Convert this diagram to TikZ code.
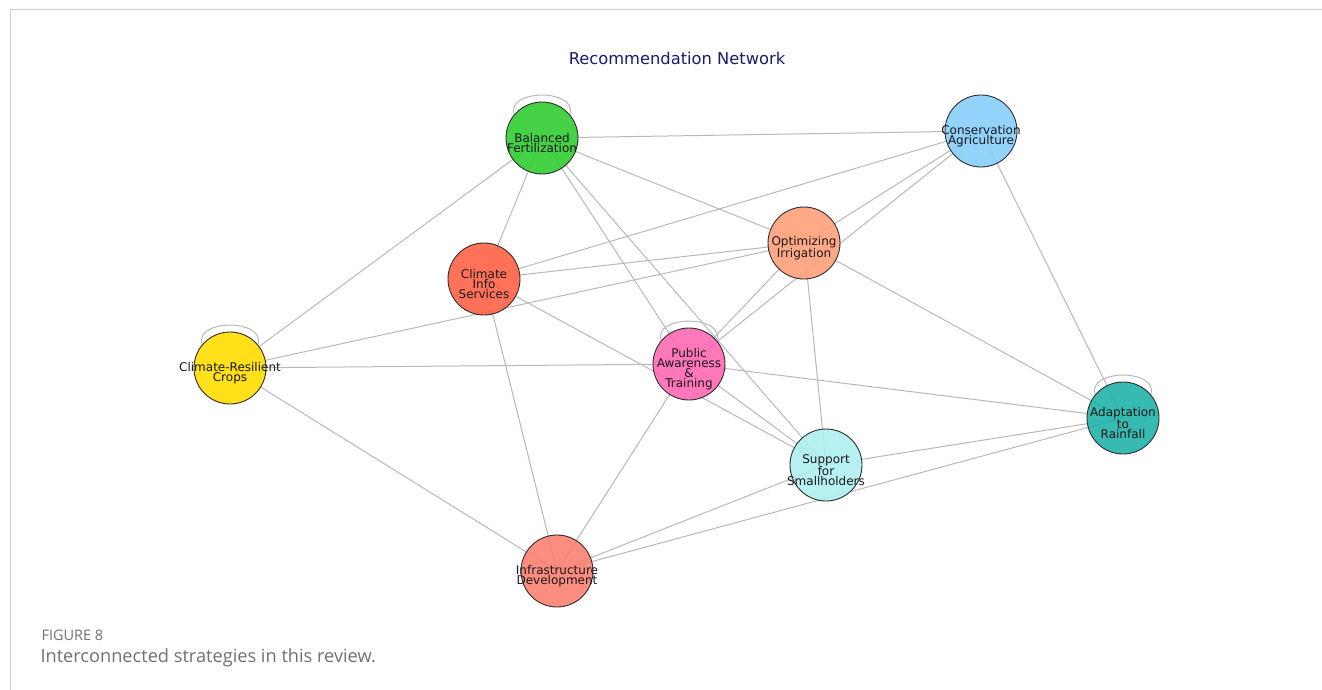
\documentclass[tikz,border=0pt]{standalone}
\usepackage{fontspec}
\newfontfamily\dv{DejaVu Sans}
\newfontfamily\capfont{Open Sans}
\usetikzlibrary{backgrounds}
\definecolor{edgegray}{HTML}{B8B8B8}
\definecolor{framegray}{HTML}{CCCCCC}
\definecolor{nodeborder}{HTML}{2E2E2E}
\definecolor{titleblue}{HTML}{191970}
\definecolor{capgray}{HTML}{707070}
\definecolor{cgreen}{HTML}{32CD32}
\definecolor{cblue}{HTML}{87CEFA}
\definecolor{csalmonl}{HTML}{FFA07A}
\definecolor{ctomato}{HTML}{FF6347}
\definecolor{cgold}{HTML}{FFDD00}
\definecolor{cpink}{HTML}{FF69B4}
\definecolor{cteal}{HTML}{20B2AA}
\definecolor{cturq}{HTML}{AFEEEE}
\definecolor{csalmon}{HTML}{FA8072}
\tikzset{
  strat/.style={circle, minimum size=72pt, inner sep=0pt, draw=nodeborder, line width=0.9pt, fill opacity=0.9, text opacity=1},
  lbl/.style={font=\dv\fontsize{12}{10}\selectfont, align=center, text=black!90, yshift=-5pt},
  edge/.style={draw=edgegray, line width=1pt},
}
\begin{document}
\begin{tikzpicture}[x=1pt,y=-1pt]
\useasboundingbox (0,0) rectangle (1322,690);
\draw[framegray, line width=1pt] (10,690) -- (10,10) -- (1322,10);
\node[font=\dv\fontsize{16.3}{19}\selectfont, text=titleblue] (title) at (677,58) {Recommendation Network};

\node[strat, fill=cgreen] (bf) at (542,138) {};
\node[lbl] (bft) at (bf.center) {Balanced\\Fertilization};
\node[strat, fill=cblue] (ca) at (981,131) {};
\node[lbl] (cat) at (ca.center) {Conservation\\Agriculture};
\node[strat, fill=csalmonl] (oi) at (804,243) {};
\node[lbl] (oit) at (oi.center) {Optimizing\\Irrigation};
\node[strat, fill=ctomato] (ci) at (484,279) {};
\node[lbl] (cit) at (ci.center) {Climate\\Info\\Services};
\node[strat, fill=cgold] (cr) at (230,368) {};
\node[lbl] (crt) at (cr.center) {Climate-Resilient\\Crops};
\node[strat, fill=cpink] (pa) at (689,364) {};
\node[lbl] (pat) at (pa.center) {Public\\Awareness\\\&\\Training};
\node[strat, fill=cteal] (ar) at (1123,418) {};
\node[lbl] (art) at (ar.center) {Adaptation\\to\\Rainfall};
\node[strat, fill=cturq] (ss) at (826,465) {};
\node[lbl] (sst) at (ss.center) {Support\\for\\Smallholders};
\node[strat, fill=csalmon] (id) at (557,571) {};
\node[lbl] (idt) at (id.center) {Infrastructure\\Development};

\begin{scope}[on background layer]
\draw[edge] (bf.center) -- (ca.center);
\draw[edge] (bf.center) -- (ci.center);
\draw[edge] (bf.center) -- (cr.center);
\draw[edge] (bf.center) -- (oi.center);
\draw[edge] (bf.center) -- (pa.center);
\draw[edge] (bf.center) -- (ss.center);
\draw[edge] (ca.center) -- (ci.center);
\draw[edge] (ca.center) -- (oi.center);
\draw[edge] (ca.center) -- (pa.center);
\draw[edge] (ca.center) -- (ar.center);
\draw[edge] (oi.center) -- (ci.center);
\draw[edge] (oi.center) -- (cr.center);
\draw[edge] (oi.center) -- (pa.center);
\draw[edge] (oi.center) -- (ss.center);
\draw[edge] (oi.center) -- (ar.center);
\draw[edge] (ci.center) -- (ss.center);
\draw[edge] (ci.center) -- (id.center);
\draw[edge] (cr.center) -- (pa.center);
\draw[edge] (cr.center) -- (id.center);
\draw[edge] (pa.center) -- (ar.center);
\draw[edge] (pa.center) -- (ss.center);
\draw[edge] (pa.center) -- (id.center);
\draw[edge] (ss.center) -- (ar.center);
\draw[edge] (ss.center) -- (id.center);
\draw[edge] (id.center) -- (ar.center);
\draw[edge] (bf.140) .. controls +(-8,-26) and +(8,-26) .. (bf.40);
\draw[edge] (cr.140) .. controls +(-8,-26) and +(8,-26) .. (cr.40);
\draw[edge] (pa.140) .. controls +(-8,-26) and +(8,-26) .. (pa.40);
\draw[edge] (ar.140) .. controls +(-8,-26) and +(8,-26) .. (ar.40);
\end{scope}

\node[font=\capfont\fontsize{14.5}{16}\selectfont, text=capgray, anchor=west] (fig) at (38,635) {FIGURE 8};
\node[font=\capfont\fontsize{18.2}{22}\selectfont, text=capgray, anchor=west] (cap) at (37,658) {Interconnected strategies in this review.};
\end{tikzpicture}
\end{document}
